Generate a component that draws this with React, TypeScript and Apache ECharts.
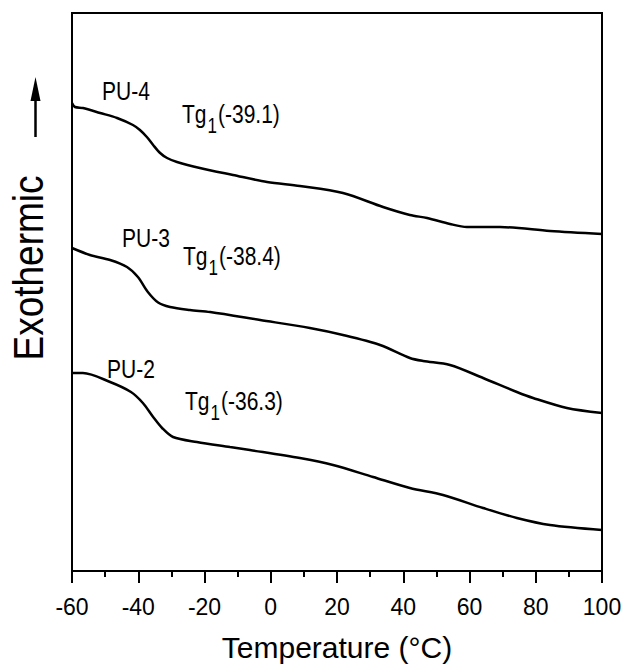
import React, { useEffect, useRef } from "react";
import * as echarts from "echarts";

// Temperature (°C) sample points and relative heat-flow values (arbitrary units)
const pu4Temp = [-60, -59.1, -56.7, -51.5, -46.4, -41.6, -39.5, -37.4, -35.5, -33.4, -31.3, -28.3, -21.4, -11.4, -1.1, 8.8, 21.8, 33.9, 42.0, 47.2, 54.1, 59.2, 69.2, 84.3, 100];
const pu4Val = [468, 464, 463, 458, 453, 446, 441, 434, 426, 418, 413, 409, 403, 396, 389, 385, 378, 364, 356, 353, 347, 344, 344, 340, 337];

const pu3Temp = [-60, -54.6, -48.5, -43.4, -40.1, -37.1, -34.0, -30.4, -24.4, -18.3, -3.2, 11.8, 21.8, 33.0, 42.0, 46.0, 54.1, 64.1, 74.3, 79.2, 89.4, 100];
const pu3Val = [323, 316, 311, 304, 294, 279, 268.5, 264, 261, 259, 251, 243, 236, 226, 213, 210, 206, 193, 179, 173, 163, 158];

const pu2Temp = [-60, -56.7, -48.5, -42.2, -38.6, -35.5, -32.8, -29.5, -22.3, -12.3, -6.3, 8.8, 18.8, 30.9, 42.0, 52.0, 64.1, 74.3, 84.3, 100];
const pu2Val = [198, 198, 189, 179, 168, 154, 143, 134, 129, 124, 121, 113, 106, 94, 83, 76, 63, 53, 46, 41];

const xTicks = { min: -60, max: 100, interval: 20 };

const sampleNames = ["PU-4", "PU-3", "PU-2"];
const tgValues = ["(-39.1)", "(-38.4)", "(-36.3)"];

const FONT = '"Liberation Sans", Arial, sans-serif';

function pairs(t: number[], v: number[]) {
  return t.map((x, i) => [x, v[i]]);
}

export default function App() {
  const ref = useRef<HTMLDivElement>(null);
  useEffect(() => {
    if (!ref.current) return;
    const chart = echarts.init(ref.current, null, { renderer: "svg" });

    const labelPos = [
      { pu: [102, 91], tg: [182, 113.5] },
      { pu: [122, 237.5], tg: [183, 256] },
      { pu: [107, 369], tg: [185, 401] },
    ];
    const txt = (text: string, x: number, y: number, size: number, sy = 1.25) => ({
      type: "text",
      x,
      y,
      scaleY: sy,
      silent: true,
      style: {
        text,
        fill: "#000",
        font: `${size}px ${FONT}`,
        textAlign: "left",
        textVerticalAlign: "middle",
        align: "left",
        verticalAlign: "middle",
      },
    });
    const graphics: any[] = [];
    labelPos.forEach((p, i) => {
      graphics.push(txt(sampleNames[i], p.pu[0], p.pu[1], 21));
      graphics.push(txt("Tg", p.tg[0], p.tg[1], 21));
      graphics.push(txt("1", p.tg[0] + 25.5, p.tg[1] + 12, 17));
      graphics.push(txt(tgValues[i], p.tg[0] + 36, p.tg[1], 21));
    });
    graphics.push({
      type: "text",
      x: 28,
      y: 268,
      rotation: Math.PI / 2,
      scaleY: 1.17,
      silent: true,
      style: {
        text: "Exothermic",
        fill: "#000",
        font: `37px ${FONT}`,
        textAlign: "center",
        textVerticalAlign: "middle",
        align: "center",
        verticalAlign: "middle",
      },
    });
    graphics.push({
      type: "line",
      silent: true,
      shape: { x1: 35.5, y1: 137, x2: 35.5, y2: 98 },
      style: { stroke: "#000", lineWidth: 2.5 },
    });
    graphics.push({
      type: "polygon",
      silent: true,
      shape: { points: [[35.5, 77], [30.5, 101], [40.5, 101]] },
      style: { fill: "#000" },
    });

    const lineSeries = (name: string, t: number[], v: number[]) => ({
      name,
      type: "line",
      data: pairs(t, v),
      showSymbol: false,
      smooth: 0.3,
      lineStyle: { color: "#000", width: 2.5 },
      silent: true,
    });

    chart.setOption({
      animation: false,
      backgroundColor: "#fff",
      grid: {
        left: 72,
        right: 23,
        top: 13,
        bottom: 99,
        show: true,
        borderColor: "#000",
        borderWidth: 2,
        backgroundColor: "transparent",
      },
      xAxis: {
        type: "value",
        min: xTicks.min,
        max: xTicks.max,
        interval: xTicks.interval,
        axisLine: { show: true, onZero: false, lineStyle: { color: "#000", width: 2 } },
        axisTick: { show: true, inside: false, length: 12, lineStyle: { color: "#000", width: 2 } },
        minorTick: { show: true, splitNumber: 2, length: 6, lineStyle: { color: "#000", width: 2 } },
        splitLine: { show: false },
        axisLabel: { color: "#000", fontSize: 23, fontFamily: FONT, margin: 24 },
        name: "Temperature (°C)",
        nameLocation: "middle",
        nameGap: 61,
        nameTextStyle: { color: "#000", fontSize: 30, fontFamily: FONT },
      },
      yAxis: {
        type: "value",
        min: 0,
        max: 558,
        axisLine: { show: true, onZero: false, lineStyle: { color: "#000", width: 2 } },
        axisTick: { show: false },
        axisLabel: { show: false },
        splitLine: { show: false },
      },
      series: [
        lineSeries("PU-4", pu4Temp, pu4Val),
        lineSeries("PU-3", pu3Temp, pu3Val),
        lineSeries("PU-2", pu2Temp, pu2Val),
      ],
      graphic: graphics,
    });
    return () => chart.dispose();
  }, []);

  return (
    <div
      ref={ref}
      style={{ position: "fixed", left: 0, top: 0, width: 625, height: 670, background: "#fff" }}
    />
  );
}
